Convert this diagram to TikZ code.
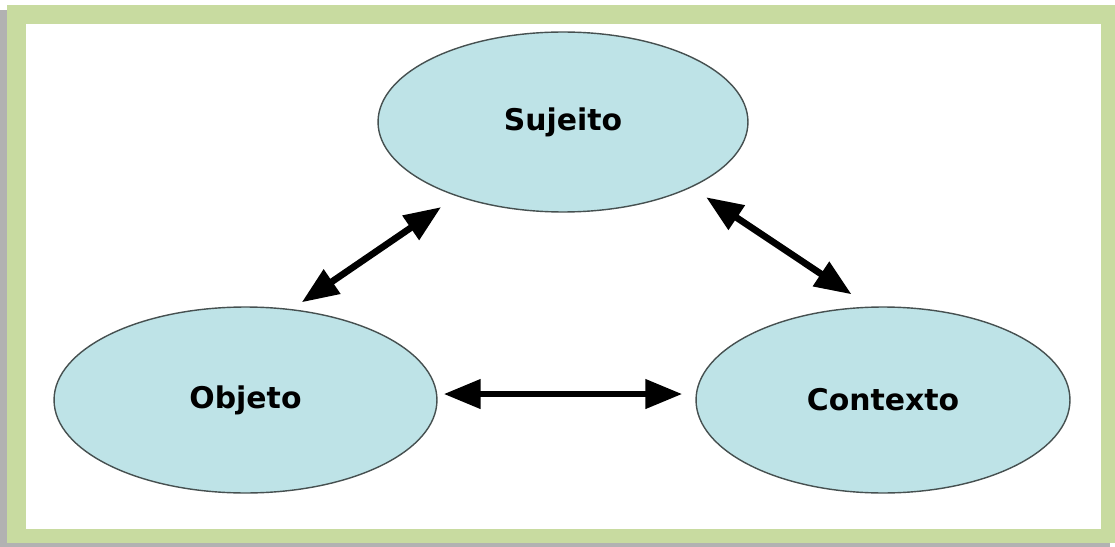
\documentclass[tikz,border=0pt]{standalone}
\usepackage{fontspec}
\setmainfont{DejaVu Sans}
\usetikzlibrary{arrows.meta,shapes.geometric}
\definecolor{framegreen}{RGB}{200,219,160}
\definecolor{bubblefill}{RGB}{190,227,231}
\definecolor{bubbleline}{RGB}{70,80,80}
\tikzset{
  bubble/.style={ellipse, draw=bubbleline, line width=0.8pt, fill=bubblefill, inner sep=0pt, align=center, font=\fontsize{17}{20}\selectfont\bfseries},
  link/.style={{Triangle[length=21pt,width=16pt]}-{Triangle[length=21pt,width=16pt]}, line width=3.8pt, draw=black}
}

\begin{document}
\begin{tikzpicture}[x=0.02cm, y=-0.02cm]
  % frame
  \useasboundingbox (0,0) rectangle (1115,547);
  \fill[black!30] (0,10) rectangle (1110,547);
  \fill[framegreen] (7,5) rectangle (1115,543);
  \fill[white] (26,24) rectangle (1101,529);

  \node[bubble, minimum width=7.40cm, minimum height=3.60cm] (suj) at (563,122) {Sujeito};
  \node[bubble, minimum width=7.66cm, minimum height=3.72cm] (obj) at (245.5,400) {Objeto};
  \node[bubble, minimum width=7.48cm, minimum height=3.72cm] (ctx) at (883,400) {Contexto};

  \draw[link, shorten <=6.8pt, shorten >=10.8pt] (obj.63.8) -- (suj.215.5);
  \draw[link, shorten <=10pt, shorten >=12.5pt] (suj.333.9) -- (ctx.98);
  \draw[link, shorten <=3.4pt, shorten >=7.4pt] ([yshift=3.4pt]obj.east) -- ([yshift=3.4pt]ctx.west);
\end{tikzpicture}
\end{document}
